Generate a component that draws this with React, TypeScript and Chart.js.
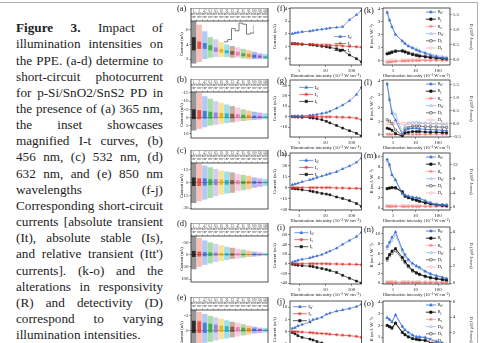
import React, { useEffect, useRef } from "react";
import { Chart, registerables } from "chart.js";
Chart.register(...registerables);

const FONT = "'Liberation Serif', 'Times New Roman', Times, serif";
Chart.defaults.font.family = FONT;
Chart.defaults.color = "#222";

// ---------------- data ----------------
const intensity = [0.55, 0.7, 0.9, 1.3, 2.6, 3.4, 4.8, 7.4, 11, 15, 27, 46, 84, 155, 240];
const logTicks = [1, 10, 100];

const stripLabels = ["1", "2", "4.7", "6.1", "8.5", "10", "20", "33", "47", "61", "85", "100", "150", "240"];
const segColors = ["#3c3c3c", "#f2857a", "#6f9be6", "#56c25a", "#b5a0e6", "#f0cf3a", "#47c6e0", "#a06a4a", "#f3a0c8", "#70b85a", "#f39a3a", "#5a7fe0", "#a870d8", "#52c2c8"];
const segCores = ["#111111", "#e03a30", "#2f6ad8", "#2aa23a", "#8e6fd0", "#d8b000", "#14a8c8", "#7a4428", "#e070a8", "#3e9a2e", "#e07a10", "#2f55c8", "#8440c0", "#20a0a8"];

// (a) 365 nm
const aOuter = [[1.4, 7.2], [1.6, 6.7], [2.0, 5.8], [2.2, 5.0], [2.3, 4.7], [2.3, 4.3], [2.3, 4.0], [2.2, 3.8], [2.2, 3.6], [2.1, 3.4], [2.0, 3.2], [2.0, 3.0], [2.0, 2.8], [2.0, 2.7]];
const aInner = [[3.2, 5.0], [3.4, 4.4], [3.4, 4.2], [3.2, 3.9], [3.0, 3.6], [2.9, 3.4], [2.8, 3.2], [2.6, 3.1], [2.5, 3.0], [2.4, 2.8], [2.3, 2.7], [2.2, 2.6], [2.2, 2.5], [2.1, 2.4]];
const aTicks = [2, 4, 6];
// (b) 456 nm
const bOuter = [[-15.6, 8], [-15, 7], [-13, 6], [-11.5, 5], [-10, 4.5], [-9, 4], [-8, 3.5], [-7, 3], [-6, 2.6], [-5, 2.2], [-4.2, 1.8], [-3.5, 1.5], [-3, 1.3], [-2.5, 1.1]];
const bInner = [[-5, 1], [-4.5, 1], [-4, 0.8], [-3.5, 0.8], [-3, 0.6], [-2.8, 0.6], [-2.5, 0.5], [-2.2, 0.5], [-2, 0.4], [-1.6, 0.4], [-1.3, 0.3], [-1, 0.3], [-0.8, 0.2], [-0.6, 0.2]];
const bTicks = [-15, -10, -5, 0, 5, 10];
// (c) 532 nm
const cOuter = [[-23, 24], [-22, 22], [-20, 20], [-18, 18], [-16, 16], [-14, 14], [-13, 13], [-12, 12], [-10, 10], [-9, 9], [-8, 8], [-6, 6], [-5, 5], [-4, 4]];
const cInner = [[-6, 4], [-5, 4], [-5, 3.5], [-4, 3], [-4, 3], [-3.5, 2.5], [-3, 2.5], [-3, 2], [-2.5, 2], [-2, 1.8], [-2, 1.5], [-1.5, 1.2], [-1.2, 1], [-1, 0.8]];
const cTicks = [-15, 0, 15, 30];
// (d) 632 nm
const dOuter = [[-76, 60], [-68, 50], [-58, 42], [-50, 36], [-44, 30], [-38, 26], [-32, 22], [-28, 18], [-24, 16], [-20, 13], [-16, 10], [-12, 8], [-9, 6], [-7, 5]];
const dInner = [[-15, 10], [-12, 8], [-10, 7], [-9, 6], [-8, 5], [-7, 5], [-6, 4], [-5, 4], [-5, 3], [-4, 3], [-3, 2], [-3, 2], [-2, 1.5], [-2, 1]];
const dTicks = [-50, 0, 50, 100];
// (e) 850 nm
const eOuter = [[-4.2, 3], [-3.8, 2.8], [-3.4, 2.5], [-3.0, 2.3], [-2.7, 2.0], [-2.4, 1.8], [-2.1, 1.6], [-1.8, 1.4], [-1.6, 1.2], [-1.3, 1.0], [-1.0, 0.8], [-0.8, 0.6], [-0.6, 0.5], [-0.5, 0.4]];
const eInner = [[-2, 0.5], [-1.9, 0.5], [-1.6, 0.5], [-1.4, 0.4], [-1.2, 0.4], [-1.0, 0.3], [-0.9, 0.3], [-0.8, 0.3], [-0.7, 0.2], [-0.6, 0.2], [-0.5, 0.2], [-0.4, 0.1], [-0.3, 0.1], [-0.2, 0.1]];
const eTicks = [-3, 0, 3];

// inset of (a)
const insetX = [0, 1, 2, 3, 4, 5, 6, 7, 8];
const insetY = [0.1, 0.2, 0.7, 0.6, 0.95, 0.9, 0.45, 0.5, 0.85];

// (f)-(j) currents: Itt', Is, It
const fTT = [2.0, 2.05, 2.1, 2.15, 2.2, 2.25, 2.3, 2.35, 2.4, 2.45, 2.5, 2.55, 3.1, 3.5, 3.85];
const fS = [1.2, 1.2, 1.18, 1.17, 1.15, 1.15, 1.12, 1.1, 1.1, 1.08, 1.05, 1.02, 0.98, 0.95, 0.92];
const fT = [1.2, 1.2, 1.18, 1.15, 1.12, 1.1, 1.05, 1.0, 0.95, 0.9, 0.8, 0.7, 0.3, 0.0, -0.25];
const fTicks = [0, 1, 2, 3, 4];
const gTT = [0.3, 0.4, 0.6, 0.8, 1.2, 1.5, 2.0, 3.0, 3.8, 5.0, 8.0, 11.0, 15.0, 21.0, 28.0];
const gS = [0, 0, 0, 0, 0, 0, -0.2, -0.2, -0.3, -0.3, -0.4, -0.6, -0.8, -1.5, -3.0];
const gT = [0, -0.2, -0.4, -0.6, -1.0, -1.4, -2.0, -3.0, -4.5, -6.0, -8.5, -11.0, -13.5, -16.0, -18.5];
const gTicks = [-20, -10, 0, 10, 20, 30];
const hTT = [4, 5, 6, 8, 11, 12, 14, 16, 18, 19.5, 22, 26, 30, 35, 41];
const hS = [0, 0, 0, 0, 0, 0, 0, 0, 0, 0, -0.5, -0.5, -1, -1, -1.5];
const hT = [-1, -1.5, -2, -3, -4.5, -5.5, -6.5, -8, -9, -10, -13, -15, -18, -22, -26];
const hTicks = [-30, -15, 0, 15, 30, 45];
const iTT = [3, 5, 7, 9, 12, 14, 16, 19, 23, 26, 32, 40, 48, 56, 65];
const iS = [0, 0, 0, 0, 0, 0, 0, 0, 0, -0.5, -0.5, -1, -1, -1.5, -2];
const iT = [-1, -2, -3, -4, -5, -6, -8, -10, -12, -14, -18, -24, -30, -36, -40];
const iTicks = [-40, -20, 0, 20, 40, 60];
const jTT = [1.2, 1.5, 2.2, 2.8, 3.8, 4.8, 5.2, 5.8, 7.0, 7.5, 8.3, 8.8, 9.4, 10.2, 11.2];
const jS = [0, -0.1, -0.2, -0.3, -0.5, -0.6, -0.8, -0.9, -1.0, -1.2, -1.4, -1.6, -1.8, -2.1, -2.5];
const jT = [-0.5, -1.0, -1.8, -2.5, -3.2, -3.6, -4.2, -4.8, -5.5, -6.2, -7, -8, -9, -10, -11];
const jTicks = [-10, -5, 0, 5, 10];

// (k)-(o) responsivity R (left) and detectivity D (right)
const kRtt = [3.7, 3.1, 2.6, 2.0, 1.5, 1.3, 1.1, 0.95, 0.8, 0.7, 0.55, 0.4, 0.3, 0.2, 0.15];
const kRt = [0.5, 0.55, 0.62, 0.7, 0.72, 0.65, 0.55, 0.45, 0.38, 0.33, 0.28, 0.22, 0.18, 0.14, 0.12];
const kRs = [-0.15, -0.12, -0.1, -0.08, -0.05, -0.04, -0.03, -0.02, -0.02, -0.01, 0, 0, 0, 0, 0];
const kDtt = [1.6, 1.35, 1.1, 0.85, 0.62, 0.55, 0.47, 0.42, 0.36, 0.31, 0.25, 0.19, 0.14, 0.11, 0.08];
const kDt = [0.21, 0.24, 0.27, 0.3, 0.31, 0.28, 0.24, 0.2, 0.17, 0.15, 0.12, 0.1, 0.08, 0.06, 0.05];
const kDs = [-0.05, -0.04, -0.03, -0.03, -0.02, -0.02, -0.01, -0.01, 0, 0, 0, 0, 0, 0, 0];
const kRTicks = [0, 1, 2, 3, 4];
const kDTicks = [0, 0.5, 1, 1.5];

const lRtt = [3.8, 2.6, 1.6, 1.1, 0.05, 0.3, 0.45, 0.5, 0.5, 0.45, 0.42, 0.4, 0.38, 0.35, 0.32];
const lRt = [0.5, 0.45, 0.35, 0.1, -0.1, 0.15, 0.2, 0.25, 0.25, 0.25, 0.22, 0.2, 0.2, 0.18, 0.16];
const lRs = [0.05, 0.05, 0.04, 0.05, 0.04, 0.05, 0.05, 0.04, 0.05, 0.05, 0.04, 0.05, 0.05, 0.05, 0.05];
const lDtt = [1.5, 1.0, 0.5, 0.35, -0.35, -0.1, 0.0, 0.05, 0.05, 0.03, 0.02, 0.0, 0.0, -0.02, -0.03];
const lDt = [0.15, 0.1, 0.0, -0.25, -0.45, -0.2, -0.15, -0.1, -0.1, -0.1, -0.12, -0.12, -0.13, -0.14, -0.15];
const lDs = [0.0, 0.01, 0.0, 0.01, 0.0, 0.0, 0.01, 0.0, 0.0, 0.01, 0.0, 0.0, 0.0, 0.0, 0.0];
const lRTicks = [0, 1, 2, 3, 4];
const lDTicks = [-0.5, 0, 0.5, 1, 1.5];

const mRtt = [9.5, 8.5, 6.5, 5.5, 2.8, 2.5, 2.3, 2.1, 2.0, 1.9, 1.4, 1.0, 0.6, 0.6, 0.55];
const mRt = [3.8, 3.9, 4.0, 4.0, 3.2, 2.3, 2.0, 1.7, 1.5, 1.3, 1.0, 0.8, 0.6, 0.5, 0.4];
const mRs = [0.35, 0.3, 0.3, 0.32, 0.3, 0.28, 0.3, 0.3, 0.28, 0.3, 0.3, 0.28, 0.3, 0.3, 0.3];
const mDtt = [13, 11.5, 9, 7.5, 4, 3.5, 3.2, 2.9, 2.7, 2.5, 1.9, 1.4, 0.9, 0.8, 0.7];
const mDt = [5.2, 5.4, 5.5, 5.3, 4.2, 3.2, 2.8, 2.3, 2.0, 1.8, 1.4, 1.1, 0.8, 0.7, 0.6];
const mDs = [0.4, 0.4, 0.35, 0.4, 0.4, 0.35, 0.4, 0.4, 0.35, 0.4, 0.4, 0.4, 0.4, 0.4, 0.4];
const mRTicks = [0, 2, 4, 6, 8, 10];
const mDTicks = [0, 4, 8, 12];

const nRtt = [7.4, 8.3, 9.3, 10.4, 6.8, 5.8, 4.8, 4.0, 3.5, 3.2, 2.4, 1.9, 1.5, 1.2, 0.95];
const nRt = [5.0, 5.8, 6.5, 7.0, 5.2, 4.4, 3.5, 2.6, 2.1, 1.8, 1.4, 1.1, 0.9, 0.7, 0.6];
const nRs = [0.1, 0.1, 0.12, 0.1, 0.1, 0.1, 0.12, 0.1, 0.1, 0.1, 0.1, 0.1, 0.1, 0.1, 0.1];
const nDtt = [4.0, 4.5, 5.0, 5.7, 3.7, 3.1, 2.6, 2.2, 1.9, 1.7, 1.3, 1.0, 0.8, 0.65, 0.5];
const nDt = [2.7, 3.2, 3.5, 3.8, 2.8, 2.4, 1.9, 1.4, 1.15, 1.0, 0.75, 0.6, 0.5, 0.4, 0.32];
const nDs = [0.15, 0.15, 0.15, 0.15, 0.15, 0.15, 0.15, 0.15, 0.15, 0.15, 0.15, 0.15, 0.15, 0.15, 0.15];
const nRTicks = [0, 2, 4, 6, 8, 10];
const nDTicks = [0, 2, 4, 6];

const oRtt = [2.65, 2.5, 2.3, 2.9, 1.9, 1.6, 1.4, 1.15, 1.0, 1.0, 0.95, 0.8, 0.6, 0.45, 0.35];
const oRt = [2.0, 1.9, 1.8, 2.2, 1.4, 1.2, 1.0, 0.85, 0.8, 0.75, 0.7, 0.55, 0.4, 0.3, 0.25];
const oRs = [0.05, 0.05, 0.05, 0.05, 0.05, 0.05, 0.05, 0.05, 0.05, 0.05, 0.05, 0.05, 0.05, 0.05, 0.05];
const oDtt = [4.0, 3.7, 3.4, 4.3, 2.8, 2.4, 2.0, 1.7, 1.5, 1.45, 1.4, 1.15, 0.9, 0.65, 0.5];
const oDt = [2.9, 2.7, 2.5, 3.2, 2.0, 1.7, 1.5, 1.25, 1.1, 1.05, 1.0, 0.8, 0.6, 0.45, 0.35];
const oDs = [0.1, 0.1, 0.1, 0.1, 0.1, 0.1, 0.1, 0.1, 0.1, 0.1, 0.1, 0.1, 0.1, 0.1, 0.1];
const oRTicks = [0, 1, 2, 3, 4];
const oDTicks = [0, 2, 4, 6];

const captionLines = [
  "illumination intensities on",
  "the PPE. (a-d) determine to",
  "short-circuit photocurrent",
  "for p-Si/SnO2/SnS2 PD in",
  "the presence of (a) 365 nm,",
  "the inset showcases",
  "magnified I-t curves, (b)",
  "456 nm, (c) 532 nm, (d)",
  "632 nm, and (e) 850 nm",
  "wavelengths (f-j)",
  "Corresponding short-circuit",
  "currents [absolute transient",
  "(It), absolute stable (Is),",
  "and relative transient (Itt')",
  "currents]. (k-o) and the",
  "alterations in responsivity",
  "(R) and detectivity (D)",
  "correspond to varying",
];
const captionLast = "illumination intensities.";

// ---------------- layout ----------------
const midTops = [8, 80, 153, 227, 301];
const leftTops = [8, 79, 150, 223, 297];
const BOX_H = 57;
const LINE_H = 16.16;

// ---------------- plugins ----------------
const framePlugin = {
  id: "frame",
  afterDraw(chart: any, _a: any, opts: any) {
    const { ctx, chartArea: a } = chart;
    const top = opts && opts.strip ? chart.scales.x.top : a.top;
    ctx.save();
    ctx.strokeStyle = "#2a2a2a";
    ctx.lineWidth = 0.8;
    ctx.strokeRect(a.left, top, a.right - a.left, a.bottom - top);
    if (opts && opts.strip) {
      ctx.beginPath();
      ctx.moveTo(a.left, a.top);
      ctx.lineTo(a.right, a.top);
      ctx.stroke();
    }
    ctx.restore();
  },
};

function drawMarker(ctx: any, style: string, x: number, y: number, r: number, stroke: string, fill: string) {
  ctx.save();
  ctx.lineWidth = 0.6;
  ctx.strokeStyle = stroke;
  ctx.fillStyle = fill;
  ctx.beginPath();
  if (style === "triangle") {
    ctx.moveTo(x, y - r);
    ctx.lineTo(x + r * 0.9, y + r * 0.6);
    ctx.lineTo(x - r * 0.9, y + r * 0.6);
    ctx.closePath();
    ctx.fill();
    ctx.stroke();
  } else if (style === "rect") {
    ctx.rect(x - r * 0.75, y - r * 0.75, r * 1.5, r * 1.5);
    ctx.fill();
    ctx.stroke();
  } else if (style === "circle") {
    ctx.arc(x, y, r * 0.8, 0, Math.PI * 2);
    ctx.fill();
    ctx.stroke();
  } else if (style === "star") {
    for (let k = 0; k < 4; k++) {
      const ang = (k * Math.PI) / 4;
      ctx.moveTo(x - r * Math.cos(ang), y - r * Math.sin(ang));
      ctx.lineTo(x + r * Math.cos(ang), y + r * Math.sin(ang));
    }
    ctx.stroke();
  }
  ctx.restore();
}

const legendPlugin = {
  id: "inLegend",
  afterDraw(chart: any, _a: any, opts: any) {
    if (!opts || !opts.show) return;
    const { ctx, chartArea: a } = chart;
    const x0 = a.left + opts.fx * (a.right - a.left);
    let y = a.top + opts.fy * (a.bottom - a.top);
    const len = opts.len;
    ctx.save();
    chart.data.datasets.forEach((ds: any) => {
      ctx.strokeStyle = ds.borderColor;
      ctx.lineWidth = ds.borderWidth || 0.7;
      ctx.setLineDash(ds.borderDash || []);
      ctx.beginPath();
      ctx.moveTo(x0, y);
      ctx.lineTo(x0 + len, y);
      ctx.stroke();
      ctx.setLineDash([]);
      drawMarker(ctx, ds.pointStyle, x0 + len / 2, y, (ds.pointRadius || 1.5) + 0.2, ds.borderColor, ds.pointBackgroundColor || ds.borderColor);
      ctx.fillStyle = "#222";
      ctx.textBaseline = "middle";
      ctx.textAlign = "left";
      ctx.font = `${opts.size}px ${FONT}`;
      const tx = x0 + len + 1.5;
      ctx.fillText(ds.label, tx, y);
      const w = ctx.measureText(ds.label).width;
      ctx.font = `${opts.size * 0.7}px ${FONT}`;
      ctx.fillText(ds.sub, tx + w, y + opts.size * 0.3);
      y += opts.dy;
    });
    ctx.restore();
  },
};

// ---------------- config builders ----------------
const fixedTicks = (vals: number[]) => (axis: any) => {
  axis.ticks = vals.filter((v) => v >= Math.min(axis.min, axis.max) - 1e-9 && v <= Math.max(axis.min, axis.max) + 1e-9).map((v) => ({ value: v }));
};

function leftConfig(outer: number[][], inner: number[][], yMin: number, yMax: number, ticks: number[], reverse: boolean) {
  return {
    type: "bar",
    data: {
      labels: stripLabels.map((s) => [s, "mW/", "cm²"]),
      datasets: [
        { data: inner, backgroundColor: segCores.map((c) => c + "cc"), grouped: false, barPercentage: 0.7, categoryPercentage: 1, order: 0 },
        { data: outer, backgroundColor: segColors.map((c) => c + "88"), grouped: false, barPercentage: 0.96, categoryPercentage: 1, order: 1 },
      ],
    },
    options: {
      responsive: false,
      animation: false,
      devicePixelRatio: 1,
      layout: { padding: { left: 0, right: 2, top: 0, bottom: 2 } },
      plugins: { legend: { display: false }, tooltip: { enabled: false }, frame: { strip: true } },
      scales: {
        x: {
          position: "top",
          grid: { display: true, drawOnChartArea: false, tickLength: 1.5, color: "#333", lineWidth: 0.4 },
          border: { display: false },
          ticks: { font: { size: 3, family: FONT, lineHeight: 1.1 }, color: "#333", padding: 0.5, maxRotation: 0, autoSkip: false },
          afterFit: (s: any) => { s.height = 13; },
        },
        y: {
          min: yMin,
          max: yMax,
          reverse,
          afterBuildTicks: fixedTicks(ticks),
          ticks: { font: { size: 5, family: FONT }, color: "#222", padding: 1, autoSkip: false },
          grid: {
            drawOnChartArea: true,
            color: (ctx: any) => (ctx.tick && ctx.tick.value === 0 ? "#444" : "rgba(0,0,0,0)"),
            tickColor: "#333",
            tickLength: 1.5,
            lineWidth: 0.6,
          },
          border: { display: false },
          title: { display: true, text: "Current (nA)", font: { size: 4.5, family: FONT }, color: "#222", padding: 0 },
          afterFit: (s: any) => { s.width = 12; },
        },
      },
    },
    plugins: [framePlugin],
  };
}

const xy = (vals: number[]) => vals.map((v, i) => ({ x: intensity[i], y: v }));

function ser(vals: number[], color: string, style: string, label: string, sub: string, extra: any = {}) {
  return {
    label,
    sub,
    data: xy(vals),
    borderColor: color,
    backgroundColor: color,
    pointBackgroundColor: color,
    pointBorderColor: color,
    pointStyle: style,
    pointRadius: 1.4,
    pointBorderWidth: 0.6,
    borderWidth: 0.7,
    ...extra,
  };
}

function logX(min: number, max: number) {
  return {
    type: "logarithmic",
    min,
    max,
    afterBuildTicks: (axis: any) => { axis.ticks = logTicks.map((v) => ({ value: v })); },
    ticks: { callback: (v: any) => String(v), font: { size: 5, family: FONT }, color: "#222", padding: 0.5, maxRotation: 0, autoSkip: false },
    grid: { drawOnChartArea: false, tickLength: 2, color: "#333", lineWidth: 0.5 },
    border: { display: false },
    title: { display: true, text: "Illumination intensity (10⁻³ W cm⁻²)", font: { size: 4.8, family: FONT }, color: "#222", padding: 0 },
    afterFit: (s: any) => { s.height = 14; },
  };
}

function yLin(min: number, max: number, ticks: number[], title: string, position: string, width: number, fmt?: (v: number) => string) {
  return {
    position,
    min,
    max,
    afterBuildTicks: fixedTicks(ticks),
    ticks: { font: { size: 5, family: FONT }, color: "#222", padding: 0.8, autoSkip: false, callback: (v: any) => (fmt ? fmt(v) : String(v)) },
    grid: { drawOnChartArea: false, tickLength: 2, color: "#333", lineWidth: 0.5 },
    border: { display: false },
    title: { display: true, text: title, font: { size: 4.8, family: FONT }, color: "#222", padding: 0 },
    afterFit: (s: any) => { s.width = width; },
  };
}

function midConfig(tt: number[], s: number[], t: number[], yMin: number, yMax: number, ticks: number[], leg: any) {
  return {
    type: "line",
    data: {
      datasets: [
        ser(tt, "#3f6fd0", "triangle", "I", "tt'"),
        ser(s, "#e2332b", "star", "I", "s", { pointRadius: 1.7 }),
        ser(t, "#1a1a1a", "rect", "I", "t"),
      ],
    },
    options: {
      responsive: false,
      animation: false,
      devicePixelRatio: 1,
      layout: { padding: { left: 0, right: 4, top: 6, bottom: 2 } },
      plugins: { legend: { display: false }, tooltip: { enabled: false }, inLegend: { show: true, size: 5, dy: 7, ...leg } },
      scales: {
        x: logX(0.45, 240),
        y: yLin(yMin, yMax, ticks, "Current (nA)", "left", 18),
      },
    },
    plugins: [framePlugin, legendPlugin],
  };
}

function rightConfig(d: number[][], rMin: number, rMax: number, rTicks: number[], dMin: number, dMax: number, dTicks: number[], dFmt?: (v: number) => string) {
  const [Rtt, Rt, Rs, Dtt, Dt, Ds] = d;
  return {
    type: "line",
    data: {
      datasets: [
        ser(Rtt, "#3f6fd0", "triangle", "R", "tt'", { yAxisID: "y", borderWidth: 0.8 }),
        ser(Rt, "#111111", "rect", "R", "t", { yAxisID: "y", borderWidth: 0.9 }),
        ser(Rs, "#f07a74", "star", "R", "s", { yAxisID: "y", borderWidth: 0.6, pointRadius: 1.6 }),
        ser(Dtt, "#8fb4ea", "triangle", "D", "tt'", { yAxisID: "y2", pointBackgroundColor: "#ffffff", borderWidth: 0.7 }),
        ser(Dt, "#444444", "rect", "D", "t", { yAxisID: "y2", pointBackgroundColor: "#ffffff", borderWidth: 0.7 }),
        ser(Ds, "#f2a0a0", "circle", "D", "s", { yAxisID: "y2", pointBackgroundColor: "#ffffff", borderWidth: 0.6 }),
      ],
    },
    options: {
      responsive: false,
      animation: false,
      devicePixelRatio: 1,
      layout: { padding: { left: 0, right: 0, top: 6, bottom: 2 } },
      plugins: { legend: { display: false }, tooltip: { enabled: false }, inLegend: { show: true, size: 4.8, dy: 7.2, fx: 0.64, fy: 0.07, len: 10 } },
      scales: {
        x: logX(0.36, 340),
        y: yLin(rMin, rMax, rTicks, "R (mA W⁻¹)", "left", 14),
        y2: yLin(dMin, dMax, dTicks, "D (10⁸ Jones)", "right", 24, dFmt),
      },
    },
    plugins: [framePlugin, legendPlugin],
  };
}

function insetConfig() {
  return {
    type: "line",
    data: {
      labels: insetX,
      datasets: [{ data: insetY, borderColor: "#222", borderWidth: 0.6, pointRadius: 0, stepped: true }],
    },
    options: {
      responsive: false,
      animation: false,
      devicePixelRatio: 1,
      plugins: { legend: { display: false }, tooltip: { enabled: false } },
      scales: { x: { display: false }, y: { display: false, min: 0, max: 1 } },
    },
  };
}

// ---------------- components ----------------
function ChartBox({ make, left, top, width, height }: any) {
  const ref = useRef<HTMLCanvasElement>(null);
  useEffect(() => {
    const c = new Chart(ref.current as any, make());
    return () => c.destroy();
  }, []);
  return <canvas ref={ref} width={width} height={height} style={{ position: "absolute", left, top, width, height }} />;
}

const f1 = (v: number) => v.toFixed(1);

const leftPanels = [
  () => leftConfig(aOuter, aInner, 0.93, 7.2, aTicks, false),
  () => leftConfig(bOuter, bInner, -15.6, 12.6, bTicks, true),
  () => leftConfig(cOuter, cInner, -23, 31, cTicks, true),
  () => leftConfig(dOuter, dInner, -76, 112, dTicks, true),
  () => leftConfig(eOuter, eInner, -4.2, 5.2, eTicks, true),
];
const midPanels = [
  () => midConfig(fTT, fS, fT, -0.5, 4.05, fTicks, { fx: 0.62, fy: 0.5, len: 12 }),
  () => midConfig(gTT, gS, gT, -19.5, 35, gTicks, { fx: 0.13, fy: 0.13, len: 14 }),
  () => midConfig(hTT, hS, hT, -31, 48, hTicks, { fx: 0.13, fy: 0.13, len: 14 }),
  () => midConfig(iTT, iS, iT, -42, 76, iTicks, { fx: 0.06, fy: 0.1, len: 14 }),
  () => midConfig(jTT, jS, jT, -11, 12.5, jTicks, { fx: 0.04, fy: 0.1, len: 14 }),
];
const rightPanels = [
  () => rightConfig([kRtt, kRt, kRs, kDtt, kDt, kDs], -0.35, 4.05, kRTicks, -0.18, 1.73, kDTicks, f1),
  () => rightConfig([lRtt, lRt, lRs, lDtt, lDt, lDs], -0.15, 4.07, lRTicks, -0.52, 1.69, lDTicks, f1),
  () => rightConfig([mRtt, mRt, mRs, mDtt, mDt, mDs], -0.38, 10.75, mRTicks, -0.8, 15.3, mDTicks),
  () => rightConfig([nRtt, nRt, nRs, nDtt, nDt, nDs], -0.2, 11.4, nRTicks, -0.1, 6.6, nDTicks),
  () => rightConfig([oRtt, oRt, oRs, oDtt, oDt, oDs], -0.8, 4.1, oRTicks, -1.35, 6.1, oDTicks),
];

const lab = (t: string, left: number, top: number) => (
  <span key={t} style={{ position: "absolute", left, top, fontFamily: FONT, fontSize: 8.5, color: "#222", lineHeight: "9px", whiteSpace: "nowrap" }}>{t}</span>
);

export default function App() {
  const lineStyle: any = { textAlign: "justify", textAlignLast: "justify", height: LINE_H, lineHeight: LINE_H + "px", whiteSpace: "normal" };
  return (
    <div style={{ position: "absolute", left: 0, top: 0, width: 490, height: 343, overflow: "hidden", background: "#fff" }}>
      <div style={{ position: "absolute", left: 0, top: 2, width: 477, height: 1, background: "#b0b0b0" }} />
      <div style={{ position: "absolute", left: 477, top: 2, width: 1, height: 341, background: "#b0b0b0" }} />
      <div style={{ position: "absolute", left: 16, top: 20.2, width: 147, fontFamily: FONT, fontSize: 13.2, color: "#222" }}>
        <div style={lineStyle}><b>Figure 3.</b> Impact of</div>
        {captionLines.map((l, i) => (
          <div key={i} style={lineStyle}>{l}</div>
        ))}
        <div style={{ ...lineStyle, textAlign: "left", textAlignLast: "left" }}>{captionLast}</div>
      </div>
      {leftPanels.map((mk, i) => (
        <ChartBox key={"l" + i} make={mk} left={179} top={leftTops[i]} width={91} height={63} />
      ))}
      <ChartBox make={insetConfig} left={224} top={22} width={30} height={22} />
      {midPanels.map((mk, i) => (
        <ChartBox key={"m" + i} make={mk} left={272} top={midTops[i] - 6} width={94} height={6 + BOX_H + 14 + 2} />
      ))}
      {rightPanels.map((mk, i) => (
        <ChartBox key={"r" + i} make={mk} left={369} top={midTops[i] - 6} width={105} height={6 + BOX_H + 14 + 2} />
      ))}
      {["(a)", "(b)", "(c)", "(d)", "(e)"].map((t, i) => lab(t, 177, leftTops[i] - 4))}
      {["(f)", "(g)", "(h)", "(i)", "(j)"].map((t, i) => lab(t, 277, midTops[i] - 4))}
      {["(k)", "(l)", "(m)", "(n)", "(o)"].map((t, i) => lab(t, 364, midTops[i] - 2))}
    </div>
  );
}
